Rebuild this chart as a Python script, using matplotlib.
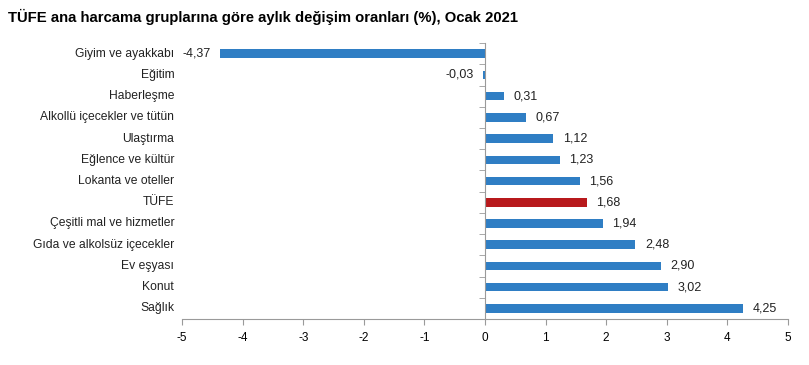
import matplotlib.pyplot as plt
import matplotlib.transforms as mtransforms

plt.rcParams['font.family'] = ['Liberation Sans', 'DejaVu Sans']

# Monthly change by main expenditure group (%), January 2021
groups = ['Giyim ve ayakkabı', 'Eğitim', 'Haberleşme', 'Alkollü içecekler ve tütün',
          'Ulaştırma', 'Eğlence ve kültür', 'Lokanta ve oteller', 'TÜFE',
          'Çeşitli mal ve hizmetler', 'Gıda ve alkolsüz içecekler', 'Ev eşyası',
          'Konut', 'Sağlık']
values = [-4.37, -0.03, 0.31, 0.67, 1.12, 1.23, 1.56, 1.68, 1.94, 2.48, 2.90, 3.02, 4.25]
xticks = [-5, -4, -3, -2, -1, 0, 1, 2, 3, 4, 5]

blue = '#2f7ec4'
red = '#b8191c'
grey = '#9a9a9a'
colors = [red if g == 'TÜFE' else blue for g in groups]

fig = plt.figure(figsize=(8.09, 3.65), dpi=100)
ax = fig.add_axes([0.225, 0.126, 0.749, 0.756])

ypos = list(range(len(groups)))
ax.barh(ypos, values, height=0.4, color=colors)

ax.set_xlim(-5, 5)
ax.set_ylim(len(groups) - 0.5, -0.5)
ax.set_xticks(xticks)
ax.set_xticklabels([str(t) for t in xticks], fontsize=8.5)

# y axis sits on zero, ticks between categories
ax.spines['left'].set_position(('data', 0))
ax.spines['top'].set_visible(False)
ax.spines['right'].set_visible(False)
for s in ['left', 'bottom']:
    ax.spines[s].set_color(grey)
ax.set_yticks([])
ax.set_yticks([i - 0.5 for i in range(len(groups))], minor=True)
ax.tick_params(axis='y', which='minor', length=4, color=grey, direction='out')
ax.tick_params(axis='x', length=4, color=grey, pad=5)

# category names left of the plot area
trans = mtransforms.blended_transform_factory(ax.transAxes, ax.transData)
for i, g in enumerate(groups):
    ax.text(-0.013, i, g, transform=trans, ha='right', va='center', fontsize=8.7, color='#222222')

# value labels
for i, v in enumerate(values):
    lab = f'{v:.2f}'.replace('.', ',')
    if v < 0:
        ax.annotate(lab, (v, i), xytext=(-7, 0), textcoords='offset points',
                    ha='right', va='center', fontsize=9, color='#222222')
    else:
        ax.annotate(lab, (v, i), xytext=(7, 0), textcoords='offset points',
                    ha='left', va='center', fontsize=9, color='#222222')

fig.text(0.01, 0.953, 'TÜFE ana harcama gruplarına göre aylık değişim oranları (%), Ocak 2021',
         fontsize=10.7, fontweight='bold', ha='left', va='center')

fig.savefig('out.png', dpi=100)
